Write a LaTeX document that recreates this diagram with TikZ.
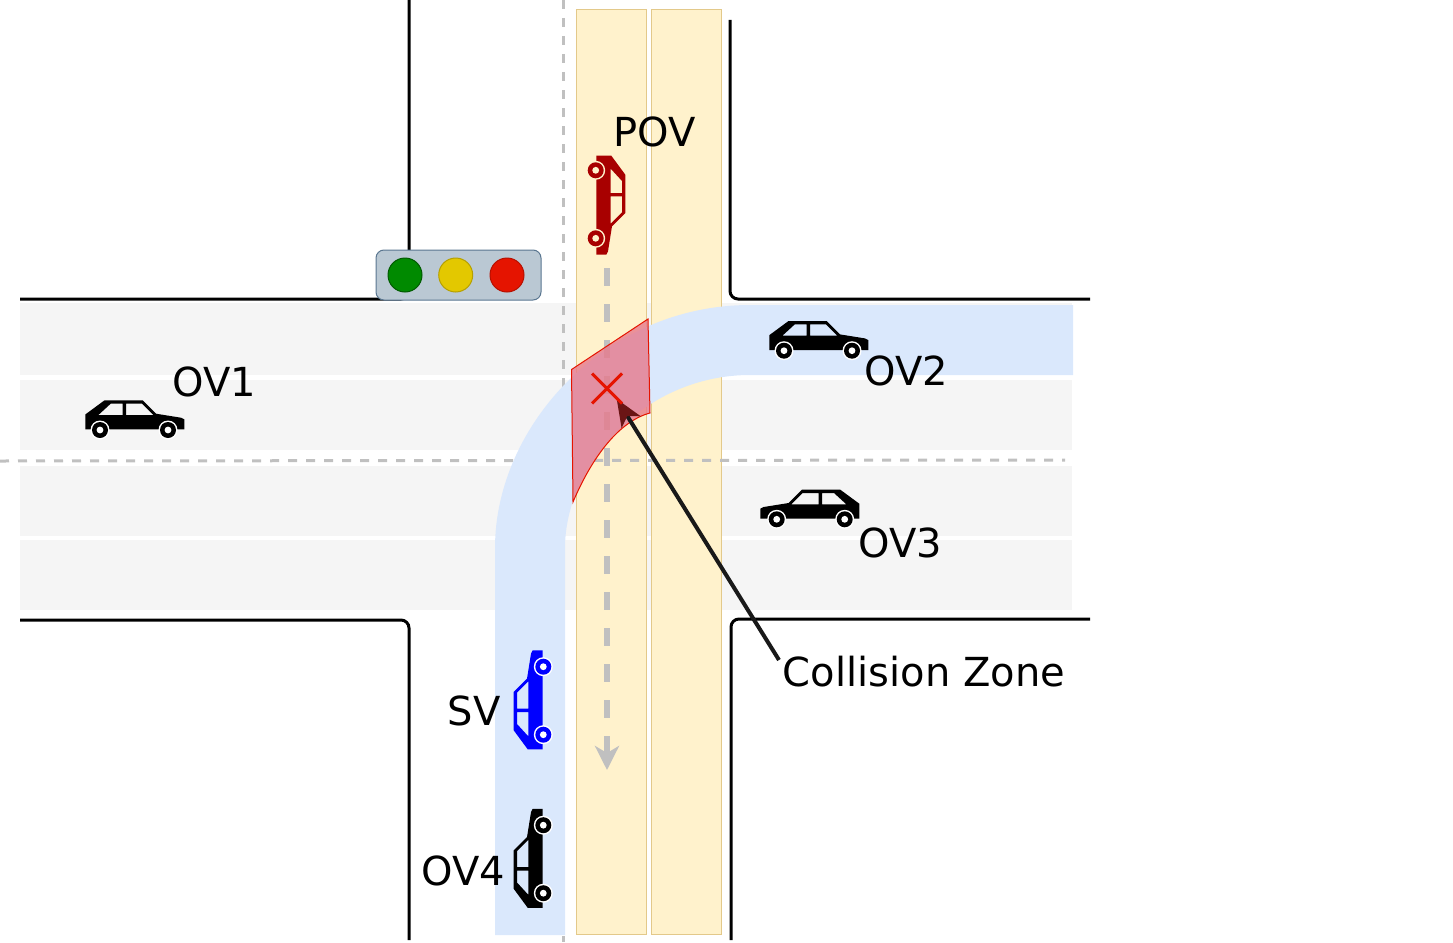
\documentclass[tikz,border=0pt]{standalone}
\usepackage{fontspec}
\setmainfont{DejaVu Sans}
\usetikzlibrary{arrows.meta}
\definecolor{roadgrey}{HTML}{F5F5F5}
\definecolor{lanefill}{HTML}{FFF2CC}
\definecolor{laneline}{HTML}{E3C98A}
\definecolor{pathblue}{HTML}{DAE8FC}
\definecolor{dashgrey}{HTML}{C0C0C0}
\definecolor{zonered}{HTML}{E51400}
\definecolor{zonefill}{HTML}{E6798C}
\definecolor{headred}{HTML}{6B1515}
\definecolor{signalbody}{HTML}{BAC8D3}
\definecolor{signaledge}{HTML}{5A7690}
\definecolor{lampgreen}{HTML}{008A00}
\definecolor{lampyellow}{HTML}{E3C800}
\tikzset{roadedge/.style={line width=3pt, rounded corners=8pt},
	lane/.style={fill=lanefill, draw=laneline, line width=1pt},
	centreline/.style={dashgrey, line width=3pt, dash pattern=on 9pt off 9pt},
	lamp/.style={circle, minimum size=34pt, inner sep=0pt, line width=1pt},
	lbl/.style={font=\fontsize{40}{40}\selectfont, inner sep=0pt},
	pics/car/.style 2 args={code={
		\fill[#1, even odd rule] (-49.3,10.7) -- (-49.3,-4.3) -- (-30.3,-18.3) -- (8,-18.3) -- (21.3,-5) -- (46.3,-1) -- (49.7,.7) -- (49.7,10.7) -- cycle
			(-36.3,-3.7) -- (-24,-15) -- (-12,-15) -- (-12,-3.7) -- cycle
			(-8.7,-15) -- (7.3,-15) -- (18.7,-3.7) -- (-8.7,-3.7) -- cycle;
		\foreach \wheelx in {-34.7,33.3} {
			\fill[#2] (\wheelx,11.3) circle (9.5);
			\fill[#1] (\wheelx,11.3) circle (8);
			\fill[#2] (\wheelx,11.3) circle (3.4);
		}
	}}}

\begin{document}
\begin{tikzpicture}[x=1pt, y=-1pt]
	\useasboundingbox (0,0) rectangle (1453,942);
	
	\foreach \ytop/\ybot in {303/375, 380/450, 466/536, 540/610}
		\fill[roadgrey] (20,\ytop) rectangle (1072,\ybot);
	
	\draw[centreline] (563,0) -- (563,942);
	
	\draw[lane] (576,10) rectangle (646,934);
	\draw[lane] (651,10) rectangle (721,934);
	
	\draw[centreline] (0,461) -- (1065,460);
	
	\draw[pathblue, line width=70pt] (530,935) -- (530,548) .. controls (530,445) and (625,340) .. (750,340) -- (1073,340);
	
	\draw[roadedge] (20,299) -- (409,299) -- (409,0);
	\draw[roadedge] (730,20) -- (730,299) -- (1090,299);
	\draw[roadedge] (20,620) -- (409,620) -- (409,940);
	\draw[roadedge] (1090,619) -- (731,619) -- (731,940);
	
	\node[fill=signalbody, draw=signaledge, rounded corners=8pt, line width=1pt, minimum width=165pt, minimum height=50pt, inner sep=0pt] (signal) at (458.5,275) {};
	\node[lamp, fill=lampgreen, draw=lampgreen!65!black] (green) at (405,275) {};
	\node[lamp, fill=lampyellow, draw=lampyellow!80!black] (yellow) at (455.7,275) {};
	\node[lamp, fill=zonered, draw=zonered!80!black] (red) at (507,275) {};
	
	\draw[dashgrey, line width=6pt, dash pattern=on 18pt off 18pt, -{Stealth[length=24pt, width=24pt, inset=7pt]}] (607,268) -- (607,770);
	
	\draw[zonered, line width=1pt, fill=zonefill, fill opacity=.8] (571.5,369.5) -- (648,319) -- (650,413) .. controls (620,421) and (593,455) .. (573,502) -- cycle;
	
	\coordinate (czone) at (607,388.5);
	\node[lbl] (collision) at (924,672) {Collision Zone};
	\coordinate (czfoot) at (779,660);
	\draw[black!90, line width=4pt, -{Stealth[length=27pt, width=22pt, inset=7pt, color=headred, fill=headred]}] (czfoot) -- (616.7,399);
	
	\draw[zonered, line width=3pt] (czone) ++(-15,-15) -- ++(30,30);
	\draw[zonered, line width=3pt] (czone) ++(15,-15) -- ++(-30,30);
	
	\pic (ovone) at (134.7,418.7) {car={black}{white}};
	\pic (ovtwo) at (818.7,339.4) {car={black}{white}};
	\pic[xscale=-1] (ovthree) at (810,508) {car={black}{white}};
	\pic[rotate=-90] (pov) at (607,205) {car={red!66!black}{lanefill}};
	\pic[rotate=90] (sv) at (532,700) {car={blue}{white}};
	\pic[rotate=90] (ovfour) at (532,858.5) {car={black}{white}};
	
	\node[lbl] (ovonelbl) at (214,382) {OV1};
	\node[lbl] (povlbl) at (655,132) {POV};
	\node[lbl] (ovtwolbl) at (906,371) {OV2};
	\node[lbl] (ovthreelbl) at (900,543) {OV3};
	\node[lbl] (svlbl) at (474,711) {SV};
	\node[lbl] (ovfourlbl) at (463,871) {OV4};
\end{tikzpicture}
\end{document}
